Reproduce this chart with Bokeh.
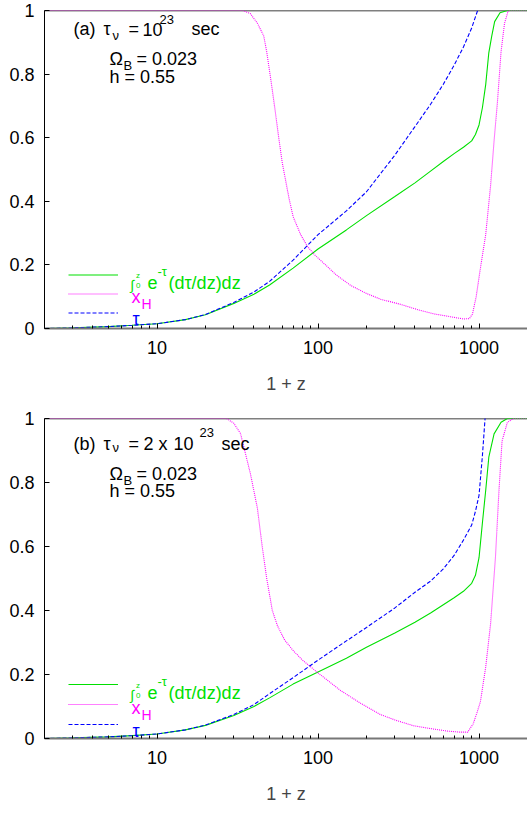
from bokeh.plotting import figure
from bokeh.models import Range1d, FixedTicker, CustomJSTickFormatter, Label, Legend, LegendItem, Span
from bokeh.layouts import column
from bokeh.embed import file_html
from bokeh.resources import INLINE

FONT = "Liberation Sans"
GREEN = "#00e000"
MAGENTA = "#ff00ff"
BLUE = "#0000ff"

# ---------------- data ----------------
x_ticks = [10, 100, 1000]
x_minor = [2, 3, 4, 5, 6, 7, 8, 9, 20, 30, 40, 50, 60, 70, 80, 90,
           200, 300, 400, 500, 600, 700, 800, 900, 2000]
y_ticks = [0, 0.2, 0.4, 0.6, 0.8, 1.0]

# panel (a): tau_nu = 1e23 s
xa_tau = [2, 3, 5, 7, 10, 15, 20, 30, 40, 50, 70, 100, 150, 200, 300, 400, 500,
          600, 700, 800, 900, 980, 1100]
tau_a = [0.0, 0.002, 0.006, 0.010, 0.015, 0.028, 0.044, 0.082, 0.115, 0.148, 0.215,
         0.295, 0.37, 0.43, 0.545, 0.635, 0.705, 0.768, 0.828, 0.885, 0.945, 1.0, 1.1]

xa_int = [2, 3, 5, 7, 10, 15, 20, 30, 40, 50, 70, 100, 150, 200, 300, 400, 500, 600,
          700, 800, 900, 950, 1000, 1050, 1100, 1150, 1200, 1250, 1350, 1500, 2000]
int_a = [0.0, 0.002, 0.006, 0.010, 0.015, 0.028, 0.043, 0.079, 0.108, 0.137, 0.19,
         0.25, 0.31, 0.355, 0.415, 0.458, 0.495, 0.525, 0.55, 0.57, 0.59, 0.61, 0.64,
         0.695, 0.767, 0.867, 0.92, 0.965, 0.993, 1.0, 1.0]

xa_xh = [2, 10, 30, 34, 38, 42, 46, 48, 51, 54, 57, 60, 66, 70, 78, 86, 95, 105, 130,
         160, 200, 245, 325, 430, 525, 665, 800, 870, 910, 960, 1020, 1100, 1180, 1240,
         1300, 1370, 1440, 1520, 2000]
xh_a = [1, 1, 1, 1.0, 0.99, 0.96, 0.92, 0.87, 0.78, 0.69, 0.6, 0.52, 0.41, 0.352,
        0.295, 0.258, 0.232, 0.212, 0.168, 0.135, 0.11, 0.092, 0.076, 0.057, 0.046,
        0.037, 0.03, 0.031, 0.045, 0.1, 0.19, 0.295, 0.45, 0.59, 0.71, 0.87, 0.96,
        1.0, 1.0]

# panel (b): tau_nu = 2e23 s
xb_tau = [2, 3, 5, 7, 10, 15, 20, 30, 40, 50, 70, 100, 150, 200, 300, 400, 500, 600,
          700, 800, 900, 950, 1000, 1050, 1090, 1120]
tau_b = [0.0, 0.002, 0.005, 0.009, 0.014, 0.027, 0.042, 0.075, 0.106, 0.14, 0.19,
         0.245, 0.305, 0.347, 0.408, 0.457, 0.492, 0.53, 0.572, 0.62, 0.667, 0.71,
         0.76, 0.885, 1.0, 1.1]

xb_int = [2, 3, 5, 7, 10, 15, 20, 30, 40, 50, 70, 100, 150, 200, 300, 400, 500, 600,
          700, 800, 900, 950, 1000, 1050, 1100, 1150, 1240, 1370, 1500, 2000]
int_b = [0.0, 0.002, 0.005, 0.009, 0.014, 0.027, 0.041, 0.072, 0.1, 0.127, 0.17,
         0.208, 0.251, 0.285, 0.330, 0.363, 0.392, 0.418, 0.44, 0.46, 0.485, 0.51,
         0.565, 0.675, 0.775, 0.879, 0.952, 0.988, 1.0, 1.0]

xb_xh = [2, 10, 27, 30, 33, 38, 42, 45, 48, 52, 56, 62, 70, 80, 100, 138, 184, 244,
         300, 390, 500, 640, 760, 850, 920, 970, 1020, 1100, 1180, 1265, 1330, 1390,
         1500, 1640, 2000]
xh_b = [1, 1, 1, 0.985, 0.953, 0.828, 0.72, 0.6, 0.5, 0.4, 0.352, 0.308, 0.275,
        0.245, 0.205, 0.15, 0.11, 0.075, 0.058, 0.04, 0.031, 0.023, 0.02, 0.02, 0.046,
        0.08, 0.115, 0.223, 0.359, 0.567, 0.775, 0.93, 0.988, 1.0, 1.0]

FRAME_LEFT = 44  # page x of frame's left edge


def make_panel(height, top, bottom):
    p = figure(width=527, height=height, x_axis_type="log",
               x_range=Range1d(2, 2000), y_range=Range1d(0, 1),
               output_backend="svg", toolbar_location=None,
               min_border_left=FRAME_LEFT, min_border_right=0,
               min_border_top=top, min_border_bottom=bottom,
               background_fill_color="white", border_fill_color="white")
    p.outline_line_color = None
    p.xgrid.visible = False
    p.ygrid.visible = False

    xa = p.xaxis[0]
    xa.ticker = FixedTicker(ticks=x_ticks, minor_ticks=x_minor)
    xa.formatter = CustomJSTickFormatter(code="return tick.toFixed(0)")
    xa.axis_label = "1 + z"
    xa.axis_label_text_font = FONT
    xa.axis_label_text_font_size = "18px"
    xa.axis_label_text_font_style = "normal"
    xa.axis_label_standoff = 17
    xa.major_label_standoff = 12
    xa.axis_line_color = "#777777"
    xa.axis_line_width = 2

    ya = p.yaxis[0]
    ya.ticker = FixedTicker(ticks=y_ticks, minor_ticks=[])
    ya.formatter = CustomJSTickFormatter(code="return (Math.round(tick*10)/10).toString()")
    ya.major_label_standoff = 10
    ya.axis_line_color = "black"

    for ax in (xa, ya):
        ax.major_label_text_font = FONT
        ax.major_label_text_font_size = "18px"
        ax.major_label_text_color = "black"
        ax.major_tick_in = 5
        ax.major_tick_out = 0
        ax.minor_tick_in = 3
        ax.minor_tick_out = 0
        ax.major_tick_line_color = "black"
        ax.minor_tick_line_color = "black"

    p.add_layout(Span(location=1, dimension="width", line_color="black",
                      line_width=1.5, level="underlay"))
    return p


def txt(p, fb, x, y, s, size=18, color="black"):
    p.add_layout(Label(x=x - FRAME_LEFT, y=fb - y, x_units="screen", y_units="screen",
                       text=s, text_font=FONT, text_font_size=f"{size}px",
                       text_color=color, text_baseline="alphabetic", text_align="left"))


def draw(p, fb, xi, yi, xx, yx, xt, yt, rows, row_h):
    r_int = p.line(xi, yi, line_color=GREEN, line_width=1.1)
    r_xh = p.line(xx, yx, line_color=MAGENTA, line_width=1.1, line_dash="1 1")
    r_tau = p.line(xt, yt, line_color=BLUE, line_width=1.1, line_dash="4 2")
    leg = Legend(items=[LegendItem(label=" ", renderers=[r_int]),
                        LegendItem(label=" ", renderers=[r_xh]),
                        LegendItem(label=" ", renderers=[r_tau])],
                 location=(68 - FRAME_LEFT, fb - (rows[2] + row_h / 2)),
                 glyph_width=50, glyph_height=row_h, label_height=row_h,
                 label_text_font_size="1px", label_standoff=0, label_width=1,
                 padding=0, margin=0, spacing=0,
                 border_line_color=None, background_fill_alpha=0)
    p.add_layout(leg)
    # legend texts
    b0 = rows[0] + 8
    txt(p, fb, 130, b0 + 2, "\u222b", 14, GREEN)
    txt(p, fb, 135.5, b0 - 7, "z", 8, GREEN)
    txt(p, fb, 135.5, b0 + 3, "0", 8, GREEN)
    txt(p, fb, 147, b0, "e", 18, GREEN)
    txt(p, fb, 157, b0 - 11, "-\u03c4", 13, GREEN)
    txt(p, fb, 168, b0, "(d\u03c4/dz)dz", 18, GREEN)
    txt(p, fb, 131, rows[1] + 3.7, "x", 18, MAGENTA)
    txt(p, fb, 141, rows[1] + 10.4, "H", 14, MAGENTA)
    txt(p, fb, 132, rows[2] + 6.4, "\u03c4", 18, BLUE)


# ---------------- panel (a) ----------------
p1 = make_panel(407, 10, 79)
FB1 = 328
draw(p1, FB1, xa_int, int_a, xa_xh, xh_a, xa_tau, tau_a, [274, 293, 312], 19)
txt(p1, FB1, 73, 28.5, "(a)")
txt(p1, FB1, 103, 28.5, "\u03c4")
txt(p1, FB1, 112, 35, "\u03bd", 13)
txt(p1, FB1, 128, 28.5, "=")
txt(p1, FB1, 142, 28.5, "10")
txt(p1, FB1, 159, 19, "23", 13)
txt(p1, FB1, 191, 28.5, "sec")
txt(p1, FB1, 109, 58.3, "\u03a9")
txt(p1, FB1, 123, 65, "B", 13)
txt(p1, FB1, 136, 58.3, "= 0.023")
txt(p1, FB1, 109, 76.7, "h = 0.55")

# ---------------- panel (b) ----------------
p2 = make_panel(405, 11, 74)
FB2 = 738
draw(p2, FB2, xb_int, int_b, xb_xh, xh_b, xb_tau, tau_b, [684, 704, 724], 20)
txt(p2, FB2, 73, 443.3, "(b)")
txt(p2, FB2, 103, 443.3, "\u03c4")
txt(p2, FB2, 112, 447, "\u03bd", 13)
txt(p2, FB2, 128, 443.3, "=")
txt(p2, FB2, 143, 443.3, "2")
txt(p2, FB2, 158, 443.3, "x")
txt(p2, FB2, 173, 443.3, "10")
txt(p2, FB2, 199, 431.5, "23", 13)
txt(p2, FB2, 221, 443.3, "sec")
txt(p2, FB2, 109, 473.3, "\u03a9")
txt(p2, FB2, 123, 480, "B", 13)
txt(p2, FB2, 136, 473.3, "= 0.023")
txt(p2, FB2, 109, 490, "h = 0.55")

layout = column(p1, p2, spacing=0)
open("out.html", "w").write(file_html(layout, INLINE))
